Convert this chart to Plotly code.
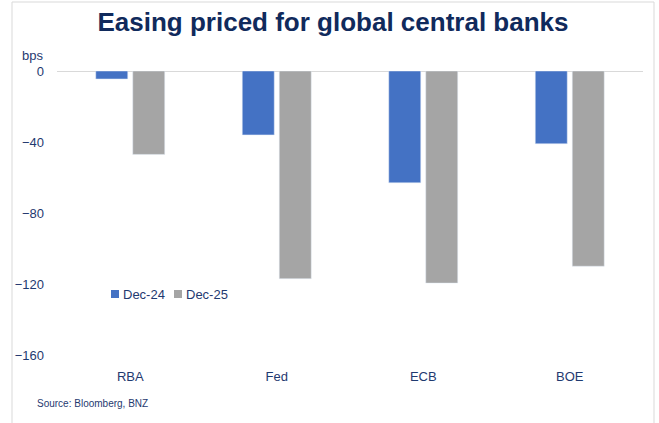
import plotly.graph_objects as go

categories = ["RBA", "Fed", "ECB", "BOE"]
dec24 = [-4.5, -36, -63, -41]
dec25 = [-47, -117, -119.5, -110]
series_names = ["Dec-24", "Dec-25"]
ytick_vals = [0, -40, -80, -120, -160]

NAVY = "#1F3A70"
BLUE, GREY = "#4472C4", "#A5A5A5"
W, H = 659, 423
L, R, T, B = 57, 16, 71, 68
pw, ph = W - L - R, H - T - B

def px(x):
    return (x - L) / pw

def py(y):
    return (H - B - y) / ph

fig = go.Figure()
fig.add_trace(go.Bar(x=categories, y=dec24, name=series_names[0], marker_color=BLUE))
fig.add_trace(go.Bar(x=categories, y=dec25, name=series_names[1], marker_color=GREY))

fig.update_layout(
    width=W, height=H,
    margin=dict(l=L, r=R, t=T, b=B),
    paper_bgcolor="white", plot_bgcolor="white",
    barmode="group", bargap=0.495, bargroupgap=0.135,
    font=dict(family="Liberation Sans, Arial", size=13, color=NAVY),
    title=dict(text="<b>Easing priced for global central banks</b>",
               x=px(333), xanchor="center", xref="paper", y=1 - 22 / H, yanchor="middle",
               font=dict(size=26, color="#102A5C", family="Liberation Sans, Arial")),
    showlegend=False,
)
fig.update_xaxes(showgrid=False, showline=False, ticks="", ticklabelstandoff=12,
                 tickfont=dict(size=13, color=NAVY))
fig.update_yaxes(range=[-160, 0], tickvals=ytick_vals, showgrid=False,
                 zeroline=True, zerolinecolor="#D9D9D9", zerolinewidth=1,
                 showline=False, ticks="", ticklabelstandoff=12,
                 tickfont=dict(size=13, color=NAVY))

# legend (drawn manually to match the compact look)
for (sx, tx, name, col) in [(111, 121, series_names[0], BLUE), (174, 184, series_names[1], GREY)]:
    fig.add_shape(type="rect", xref="paper", yref="paper",
                  x0=px(sx), x1=px(sx + 8), y0=py(298), y1=py(290),
                  line=dict(width=0), fillcolor=col)
    fig.add_annotation(text=name, xref="paper", yref="paper", x=px(tx), y=py(294),
                       xanchor="left", yanchor="middle", showarrow=False,
                       font=dict(size=13, color=NAVY))

fig.add_annotation(text="bps", xref="paper", yref="paper", x=px(45), y=py(55),
                   xanchor="right", yanchor="middle", showarrow=False,
                   font=dict(size=13, color=NAVY))
fig.add_annotation(text="Source: Bloomberg, BNZ", xref="paper", yref="paper",
                   x=px(35), y=py(404), xanchor="left", yanchor="middle", showarrow=False,
                   font=dict(size=10, color=NAVY))
fig.add_shape(type="rect", xref="paper", yref="paper",
              x0=px(12), x1=px(654), y0=py(430), y1=py(2),
              line=dict(color="#D9D9D9", width=1), fillcolor="rgba(0,0,0,0)", layer="below")

fig.write_html("out.html")
